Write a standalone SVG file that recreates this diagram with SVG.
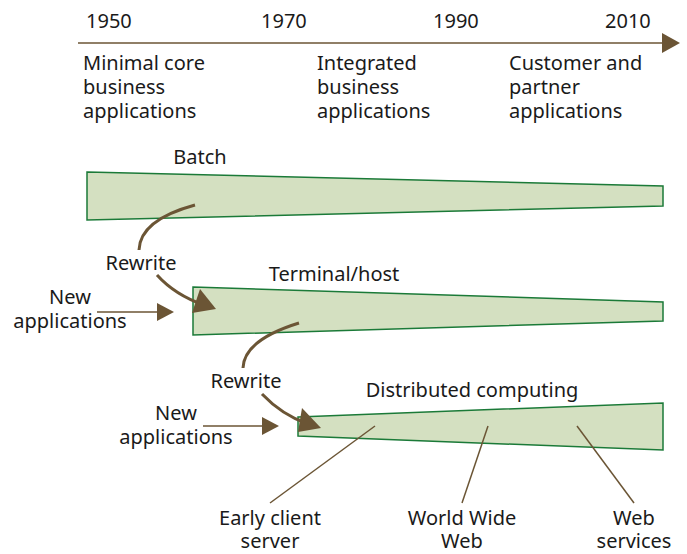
<svg xmlns="http://www.w3.org/2000/svg" width="687" height="554" viewBox="0 0 687 554">
<defs>
<style>
text{font-family:"Noto Sans","Open Sans","DejaVu Sans",sans-serif;font-size:20px;fill:#1a1a1a}
.mid{text-anchor:middle}
.band{fill:#d4e0c1;stroke:#1b7a38;stroke-width:1.5}
.arr{fill:none;stroke:#6b5535;stroke-width:3}
.thin{fill:none;stroke:#6b5535;stroke-width:1.5}
.head{fill:#6b5535}
</style>
</defs>
<g id="timeline">
<line x1="78" y1="43" x2="664" y2="43" class="thin"/>
<polygon points="662,33 680,43 662,53" class="head"/>
<text x="86" y="28">1950</text>
<text x="261" y="28">1970</text>
<text x="433" y="28">1990</text>
<text x="605" y="28">2010</text>
<text x="83" y="70">Minimal core</text>
<text x="83" y="94">business</text>
<text x="83" y="118">applications</text>
<text x="317" y="70">Integrated</text>
<text x="317" y="94">business</text>
<text x="317" y="118">applications</text>
<text x="509" y="70">Customer and</text>
<text x="509" y="94">partner</text>
<text x="509" y="118">applications</text>
</g>
<g id="batch">
<polygon points="87,172 663,186 663,206 87,220" class="band"/>
<text x="200" y="164" class="mid">Batch</text>
</g>
<g id="terminal">
<polygon points="193,287 663,302 663,321 193,335" class="band"/>
<text x="334" y="281" class="mid">Terminal/host</text>
</g>
<g id="distributed">
<polygon points="298,417 663,403 663,450 298,436" class="band"/>
<text x="472" y="397" class="mid">Distributed computing</text>
</g>
<g id="labels">
<text x="141" y="270" class="mid">Rewrite</text>
<text x="246" y="388" class="mid">Rewrite</text>
<text x="70" y="304" class="mid">New</text>
<text x="70" y="328" class="mid">applications</text>
<text x="176" y="420" class="mid">New</text>
<text x="176" y="444" class="mid">applications</text>
<text x="270" y="525" class="mid">Early client</text>
<text x="270" y="548" class="mid">server</text>
<text x="462" y="525" class="mid">World Wide</text>
<text x="462" y="548" class="mid">Web</text>
<text x="634" y="525" class="mid">Web</text>
<text x="634" y="548" class="mid">services</text>
</g>
<g id="connectors">
<path d="M195,205 Q140,220 139,250" class="arr"/>
<path d="M157,275 Q175,295 204,305" class="arr"/>
<polygon points="200,289 216,309 192,313" class="head"/>
<path d="M299,323 Q244,340 243,368" class="arr"/>
<path d="M262,394 Q282,415 308,424" class="arr"/>
<polygon points="302,408 321,428 298,432" class="head"/>
<line x1="97" y1="312" x2="160" y2="312" class="thin"/>
<polygon points="157,303 174,312 157,321" class="head"/>
<line x1="203" y1="426" x2="265" y2="426" class="thin"/>
<polygon points="262,417 279,426 262,435" class="head"/>
<line x1="375" y1="426" x2="270" y2="503" class="thin"/>
<line x1="488" y1="426" x2="462" y2="503" class="thin"/>
<line x1="577" y1="426" x2="634" y2="503" class="thin"/>
</g>
</svg>
